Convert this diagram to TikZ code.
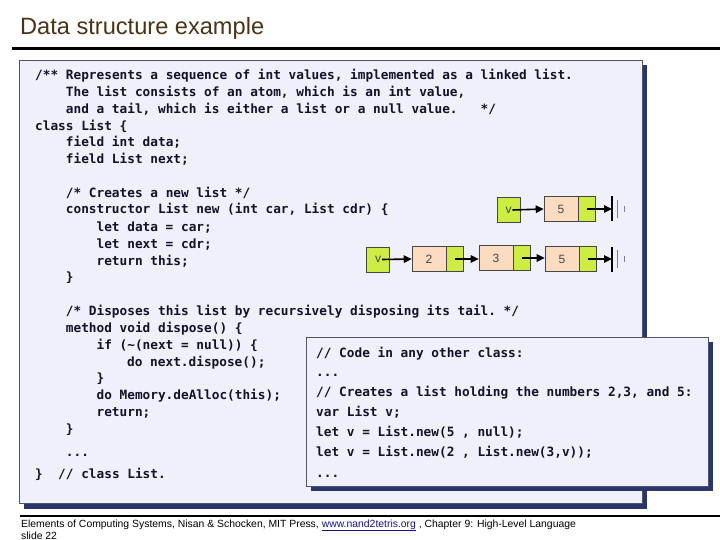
\documentclass[tikz,border=0pt]{standalone}
\usepackage{fontspec}
\setmainfont{Liberation Sans}
\newfontfamily\codefont{DejaVu Sans Mono}
\usetikzlibrary{arrows.meta}
\definecolor{titlebrown}{RGB}{74,52,22}
\definecolor{boxfill}{RGB}{240,240,252}
\definecolor{boxline}{RGB}{80,84,100}
\definecolor{shadowblue}{RGB}{40,54,108}
\definecolor{codeink}{RGB}{18,18,40}
\definecolor{cellgreen}{RGB}{204,238,68}
\definecolor{cellpeach}{RGB}{252,220,192}
\definecolor{cellline}{RGB}{70,70,70}
\definecolor{numgray}{RGB}{70,70,70}
\definecolor{linkblue}{RGB}{20,20,140}
\tikzset{
  code/.style={anchor=base west, inner sep=0pt, text=codeink,
    font=\codefont\bfseries\fontsize{12.76}{15}\selectfont\frenchspacing},
  cell/.style={draw=cellline, line width=0.6pt, minimum height=25pt, inner sep=0pt,
    font=\fontsize{12}{14}\selectfont, text=numgray},
  vcell/.style={cell, fill=cellgreen, minimum width=23pt},
  datacell/.style={cell, fill=cellpeach, minimum width=34pt},
  ptrcell/.style={cell, fill=cellgreen, minimum width=17pt},
  link/.style={line width=1.6pt, -{Triangle[length=8pt,width=7.5pt]}},
  nullbar/.style={line width=1.3pt},
  nullsmall/.style={line width=0.8pt, draw=gray},
  shadowbox/.style={fill=shadowblue, draw=none},
  codebox/.style={fill=boxfill, draw=boxline, line width=0.8pt},
  foot/.style={anchor=base west, inner sep=0pt, font=\fontsize{10.4}{12}\selectfont, text=black}
}
\begin{document}
\begin{tikzpicture}[x=1pt,y=-1pt]
\useasboundingbox (0,0) rectangle (720,540);
\fill[white] (0,0) rectangle (720,540);
% title
\node[anchor=base west, inner sep=0pt, text=titlebrown, font=\fontsize{23.6}{28}\selectfont] (title) at (20,35) {Data structure example};
\draw[line width=3pt] (12,48.5) -- (720,48.5);
% main box
\fill[shadowbox] (24,65) rectangle (647,509);
\draw[codebox] (19,60) rectangle (642,503);
\node[code] (t1) at (35,80) {/** Represents a sequence of int values, implemented as a linked list.};
\node[code] (t2) at (65.7,97) {The list consists of an atom, which is an int value,};
\node[code] (t3) at (65.7,113.5) {and a tail, which is either a list or a null value.~~~*/};
\node[code] (t4) at (35,130.5) {class List \{};
\node[code] (t5) at (65.7,147) {field int data;};
\node[code] (t6) at (65.7,164) {field List next;};
\node[code] (t7) at (65.7,197) {/* Creates a new list */};
\node[code] (t8) at (65.7,214) {constructor List new (int car, List cdr) \{};
\node[code] (t9) at (96.4,231) {let data = car;};
\node[code] (t10) at (96.4,248) {let next = cdr;};
\node[code] (t11) at (96.4,265) {return this;};
\node[code] (t12) at (65.7,281.5) {\}};
\node[code] (t13) at (65.7,315) {/* Disposes this list by recursively disposing its tail. */};
\node[code] (t14) at (65.7,332) {method void dispose() \{};
\node[code] (t15) at (96.4,349) {if (\textasciitilde(next = null)) \{};
\node[code] (t16) at (127,366) {do next.dispose();};
\node[code] (t17) at (96.4,382.5) {\}};
\node[code] (t18) at (96.4,399.5) {do Memory.deAlloc(this);};
\node[code] (t19) at (96.4,416) {return;};
\node[code] (t20) at (65.7,433) {\}};
\node[code] (t21) at (65.7,456) {...};
\node[code] (t22) at (35,478) {\}~~// class List.};
% linked list row 1
\node[vcell] (v1) at (508.5,210) {v};
\node[datacell] (d1) at (561,209) {5};
\node[ptrcell, anchor=west] (p1) at (d1.east) {};
\coordinate (n1) at (612,209);
\draw[link] ([xshift=4pt]v1.center) -- (d1.west);
\draw[link] (p1.center) -- (n1);
\draw[nullbar] ([yshift=-12.5pt]n1) -- ([yshift=12.5pt]n1);
\draw[nullsmall] ([xshift=5pt,yshift=-9pt]n1) -- ([xshift=5pt,yshift=9pt]n1);
\draw[nullsmall] ([xshift=12pt,yshift=-3pt]n1) -- ([xshift=12pt,yshift=3pt]n1);
% linked list row 2
\node[vcell] (v2) at (378,259.5) {v};
\node[datacell] (d2) at (429,259) {2};
\node[ptrcell, anchor=west] (p2) at (d2.east) {};
\node[datacell] (d3) at (496,258) {3};
\node[ptrcell, anchor=west] (p3) at (d3.east) {};
\node[datacell] (d4) at (562,259) {5};
\node[ptrcell, anchor=west] (p4) at (d4.east) {};
\coordinate (n2) at (612,259);
\draw[link] ([xshift=4pt]v2.center) -- (d2.west);
\draw[link] (p2.center) -- (d3.west |- p2.center);
\draw[link] (p3.center) -- (d4.west |- p3.center);
\draw[link] (p4.center) -- (n2);
\draw[nullbar] ([yshift=-12.5pt]n2) -- ([yshift=12.5pt]n2);
\draw[nullsmall] ([xshift=5pt,yshift=-9pt]n2) -- ([xshift=5pt,yshift=9pt]n2);
\draw[nullsmall] ([xshift=12pt,yshift=-3pt]n2) -- ([xshift=12pt,yshift=3pt]n2);
% second box
\fill[shadowbox] (311,342) rectangle (713,491);
\draw[codebox] (306,337) rectangle (708,486);
\node[code] (u1) at (316,357) {// Code in any other class:};
\node[code] (u2) at (316,376) {...};
\node[code] (u3) at (316,396) {// Creates a list holding the numbers 2,3, and 5:};
\node[code] (u4) at (316,416) {var List v;};
\node[code] (u5) at (316,436) {let v = List.new(5 , null);};
\node[code] (u6) at (316,456) {let v = List.new(2 , List.new(3,v));};
\node[code] (u7) at (316,477) {...};
% footer
\draw[line width=2.5pt] (20,516) -- (720,516);
\node[foot] (f1) at (21,527) {Elements of Computing Systems, Nisan \& Schocken, MIT Press, \textcolor{linkblue}{\underline{www.nand2tetris.org}} , Chapter 9: High-Level Language};
\node[foot] (f2) at (21,539) {slide 22};
\end{tikzpicture}
\end{document}
